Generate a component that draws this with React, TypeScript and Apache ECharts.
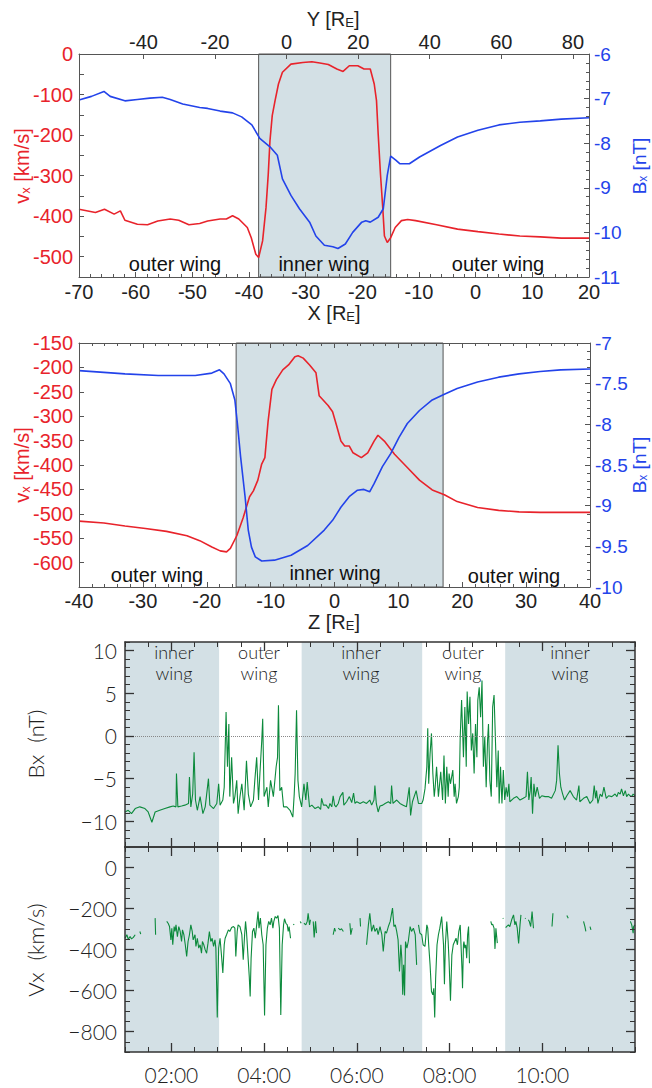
import React, { useEffect, useRef } from 'react';
import * as echarts from 'echarts';

// ---------- Panel 1: vx and Bx along X (top axis Y) ----------
const p1Vx: [number, number][] = [
  [-70, -383], [-67.1, -391], [-65.5, -383], [-63.8, -395], [-62.7, -387], [-61.9, -410], [-59.7, -420],
  [-57.9, -421], [-56.1, -412], [-53.9, -407], [-52.4, -410], [-50.6, -421], [-48.7, -418], [-47.3, -412],
  [-45.1, -407], [-44.0, -407], [-42.9, -399], [-41.8, -407], [-40.3, -428], [-39.6, -453], [-38.8, -494],
  [-38.3, -502], [-37.6, -461], [-37.0, -379], [-36.6, -296], [-36.3, -214], [-35.9, -152], [-35.4, -115],
  [-34.8, -74], [-34.1, -45], [-32.6, -25], [-30.5, -21], [-28.9, -19], [-27.5, -22], [-26.0, -26],
  [-24.5, -37], [-23.4, -43], [-22.3, -29], [-20.8, -29], [-19.7, -37], [-18.6, -37], [-17.9, -74],
  [-17.5, -115], [-17.2, -198], [-16.8, -296], [-16.4, -379], [-16.1, -449], [-15.6, -465], [-15.0, -453],
  [-14.2, -428], [-13.1, -411], [-12.0, -408], [-10.6, -411], [-6.9, -421], [-3.2, -432], [0.4, -438],
  [4.1, -444], [7.8, -449], [11.4, -451], [15.1, -454], [20, -454],
];
const p1Bx: [number, number][] = [
  [-70, -7.03], [-67.8, -6.95], [-65.6, -6.84], [-64.5, -6.95], [-61.9, -7.05], [-59.7, -7.02], [-57.5, -6.99],
  [-55.3, -6.97], [-53.9, -7.02], [-51.7, -7.12], [-48.7, -7.2], [-47.3, -7.22], [-45.1, -7.28], [-42.9, -7.32],
  [-41.3, -7.41], [-39.5, -7.59], [-38.1, -7.89], [-36.3, -8.08], [-35.0, -8.27], [-34.1, -8.8], [-32.6, -9.17],
  [-31.1, -9.47], [-29.3, -9.77], [-28.2, -10.08], [-26.7, -10.29], [-25.2, -10.32], [-24.3, -10.36],
  [-23.0, -10.26], [-21.7, -10.0], [-20.1, -9.77], [-19.4, -9.74], [-18.6, -9.77], [-17.2, -9.66],
  [-16.3, -9.47], [-15.6, -8.72], [-15.0, -8.29], [-14.1, -8.38], [-13.4, -8.46], [-11.7, -8.46],
  [-9.9, -8.31], [-6.2, -8.05], [-3.2, -7.86], [0.4, -7.71], [4.1, -7.59], [7.8, -7.53], [11.4, -7.5],
  [15.1, -7.46], [20, -7.43],
];
const p1Inner: [number, number] = [-38.3, -15.0];
const p1XTicks = [-70, 20];
const p1YTopRange = [-58, 84.5];
const p1YTopLabels = [-40, -20, 0, 20, 40, 60, 80];
const p1VxLabels = [0, -100, -200, -300, -400, -500];

// ---------- Panel 2: vx and Bx along Z ----------
const p2Vx: [number, number][] = [
  [-40, -515], [-36.1, -519], [-32.8, -525], [-29.6, -530], [-26.3, -536], [-23.1, -545], [-21.1, -555],
  [-19.2, -568], [-17.9, -576], [-16.9, -578], [-16.3, -571], [-15.3, -545], [-14.3, -508], [-13.3, -465],
  [-12.7, -453], [-12.0, -431], [-11.4, -398], [-10.9, -385], [-10.4, -311], [-9.8, -245], [-9.1, -225],
  [-8.1, -205], [-7.2, -195], [-6.2, -178], [-5.7, -176], [-4.9, -181], [-3.9, -195], [-2.9, -211],
  [-2.4, -258], [-1.0, -278], [-0.3, -291], [0.3, -318], [1.0, -351], [1.6, -361], [2.3, -361], [2.9, -375],
  [4.2, -385], [5.2, -375], [6.2, -351], [6.8, -339], [7.8, -351], [9.4, -378], [11.4, -405], [13.3, -431],
  [15.3, -451], [17.2, -461], [19.2, -475], [22.4, -487], [25.7, -493], [28.9, -496], [32.2, -497],
  [35.4, -497], [40, -497],
];
const p2Bx: [number, number][] = [
  [-40, -7.34], [-32.8, -7.38], [-27.6, -7.4], [-21.8, -7.4], [-19.2, -7.37], [-18.0, -7.33], [-17.3, -7.38],
  [-16.3, -7.5], [-15.6, -7.7], [-15.2, -7.99], [-14.7, -8.4], [-14.0, -8.89], [-13.5, -9.3], [-13.0, -9.51],
  [-12.4, -9.63], [-11.4, -9.68], [-9.4, -9.67], [-6.8, -9.61], [-4.2, -9.49], [-1.6, -9.3], [-0.3, -9.18],
  [1.0, -9.02], [2.3, -8.89], [3.6, -8.81], [4.6, -8.8], [5.5, -8.83], [6.2, -8.73], [7.5, -8.52], [8.8, -8.36],
  [10.1, -8.16], [11.4, -7.99], [13.3, -7.83], [15.3, -7.7], [17.2, -7.63], [19.2, -7.56], [22.4, -7.48],
  [25.7, -7.42], [28.9, -7.38], [32.2, -7.35], [35.4, -7.33], [40, -7.32],
];
const p2Inner: [number, number] = [-15.4, 17.0];
const p2VxLabels = [-150, -200, -250, -300, -350, -400, -450, -500, -550, -600];

// ---------- Panels 3-4: spacecraft time series (time in hours UT) ----------
const bxSeries: [number, number][] = [
  [1.0, -8.9], [1.07, -8.7], [1.14, -9.1], [1.22, -8.5], [1.32, -8.3], [1.43, -8.5], [1.5, -8.9], [1.58, -10.1],
  [1.65, -8.9], [1.75, -8.7], [1.86, -8.5], [1.97, -8.3], [2.04, -8.2], [2.1, -8.3], [2.11, -4.4], [2.14, -8.3],
  [2.22, -8.2], [2.29, -8.1], [2.37, -7.9], [2.39, -4.8], [2.42, -8.3], [2.46, -6.8], [2.49, -1.9], [2.52, -7.5],
  [2.56, -8.7], [2.62, -7.1], [2.68, -9.1], [2.73, -8.3], [2.8, -5.0], [2.83, -8.1], [2.91, -8.5], [2.98, -7.9],
  [3.02, -5.6], [3.05, -8.1], [3.11, -7.5], [3.14, -6.0], [3.18, 2.8], [3.21, -3.6], [3.24, 1.4], [3.26, -7.1],
  [3.3, -2.5], [3.34, -7.9], [3.37, -7.1], [3.41, -5.2], [3.44, -9.1], [3.48, -7.1], [3.52, -5.6], [3.57, -8.7],
  [3.62, -2.9], [3.66, -6.8], [3.71, -8.3], [3.77, -7.5], [3.8, -5.2], [3.84, -2.5], [3.88, -7.5], [3.91, -4.4],
  [3.95, -0.5], [3.97, 2.0], [4.0, -7.1], [4.06, -6.0], [4.09, -8.3], [4.14, -5.2], [4.2, -7.1], [4.26, -3.6],
  [4.29, -2.5], [4.31, 3.6], [4.34, -6.4], [4.38, -6.0], [4.42, -8.3], [4.49, -8.3], [4.56, -8.7], [4.62, -9.5],
  [4.65, -6.8], [4.67, -4.4], [4.7, 3.0], [4.73, -5.2], [4.76, -7.1], [4.81, -8.3], [4.86, -5.6], [4.9, -7.5],
  [4.93, -5.4], [4.98, -8.3], [5.03, -8.1], [5.1, -8.5], [5.17, -8.3], [5.22, -8.6], [5.24, -7.3], [5.28, -8.1],
  [5.34, -8.1], [5.39, -8.5], [5.42, -7.9], [5.46, -8.3], [5.49, -7.0], [5.52, -8.1], [5.55, -8.3], [5.6, -7.9],
  [5.64, -7.1], [5.7, -6.6], [5.72, -8.1], [5.78, -7.7], [5.84, -7.1], [5.89, -7.8], [5.93, -6.7], [5.96, -7.9],
  [6.0, -7.7], [6.07, -7.9], [6.14, -7.7], [6.21, -7.9], [6.28, -7.5], [6.32, -8.1], [6.37, -7.5], [6.39, -5.8],
  [6.42, -7.9], [6.46, -8.9], [6.5, -8.2], [6.56, -8.1], [6.61, -7.9], [6.68, -7.7], [6.73, -7.9], [6.75, -5.8],
  [6.78, -7.9], [6.86, -7.5], [6.93, -7.9], [7.0, -8.1], [7.07, -8.3], [7.13, -6.0], [7.16, -9.3], [7.2, -7.7],
  [7.28, -6.4], [7.33, -7.9], [7.4, -7.9], [7.43, -7.5],
  [7.47, -6.2], [7.51, -3.6], [7.53, 0.9], [7.55, -5.6], [7.58, -2.1], [7.61, 0.3], [7.64, -4.4], [7.67, -7.1],
  [7.69, -6.0], [7.72, -3.6], [7.76, -7.1], [7.81, -4.2], [7.85, -7.5], [7.88, -2.3], [7.91, -7.9], [7.94, -3.6],
  [7.97, -7.1], [7.99, -4.4], [8.02, -5.6], [8.07, -4.0], [8.1, -7.1], [8.12, -5.6], [8.15, -7.9], [8.19, -7.1],
  [8.21, -6.0], [8.23, -0.1], [8.26, 4.2], [8.3, -2.5], [8.33, 3.4], [8.36, -3.6], [8.38, 5.2], [8.41, 1.4],
  [8.44, 4.6], [8.47, -1.7], [8.5, 0.3], [8.53, -4.4], [8.56, 1.4], [8.59, -2.5], [8.61, 4.2], [8.64, 5.7],
  [8.67, 2.2], [8.7, 6.5], [8.73, -3.6], [8.76, -0.1], [8.79, -6.0], [8.82, -0.5], [8.84, 1.4], [8.87, -5.2],
  [8.9, -7.1], [8.93, 3.4], [8.96, 4.8], [8.99, -0.5], [9.02, -6.0], [9.05, -1.7], [9.07, -7.9], [9.1, -3.6],
  [9.13, -7.9], [9.16, -4.0], [9.19, -7.5], [9.22, -6.0], [9.25, -7.1], [9.28, -5.6], [9.3, -7.7], [9.38, -7.3],
  [9.45, -7.1], [9.52, -7.5], [9.59, -7.3], [9.65, -7.1], [9.68, -4.2], [9.71, -7.5], [9.74, -6.4], [9.76, -4.8],
  [9.79, -9.1], [9.82, -5.6], [9.85, -7.1], [9.89, -6.0], [9.94, -7.3], [9.99, -7.0], [10.06, -7.1], [10.13, -7.1],
  [10.2, -7.3], [10.28, -6.4], [10.31, -5.2], [10.34, -1.1], [10.37, -4.4], [10.4, -6.0], [10.44, -6.8],
  [10.48, -7.5], [10.53, -7.0], [10.6, -6.4], [10.67, -7.1], [10.74, -7.5], [10.79, -5.8], [10.81, -7.7],
  [10.89, -7.3], [10.96, -7.1], [11.03, -7.9], [11.09, -7.5], [11.12, -5.8], [11.15, -7.3], [11.17, -6.4],
  [11.2, -7.9], [11.25, -6.8], [11.29, -7.1], [11.33, -6.0], [11.38, -7.3], [11.43, -7.0], [11.5, -7.1],
  [11.57, -6.8], [11.61, -7.1], [11.64, -6.6], [11.68, -6.8], [11.71, -6.2], [11.75, -7.0], [11.79, -6.4],
  [11.82, -7.1], [11.86, -6.8], [11.89, -7.0], [11.93, -7.1], [11.96, -6.8], [12.0, -7.0],
];
// null marks a data gap
const vxSeries: ([number, number] | null)[] = [
  [1.0, -345], [1.04, -328], [1.07, -350], [1.11, -337], [1.14, -348], [1.18, -341], [1.22, -328], null,
  [1.32, -312], [1.34, -325], null,
  [1.65, -247], [1.66, -328], null,
  [1.9, -263], [1.93, -272], [1.96, -288], [1.99, -353], [2.01, -296], [2.03, -377], [2.06, -288], [2.08, -312],
  [2.1, -280], [2.13, -337], [2.16, -288], [2.19, -312], [2.22, -361], [2.24, -304], [2.27, -328], [2.3, -377],
  [2.33, -434], [2.36, -361], [2.39, -328], [2.42, -280], [2.45, -312], [2.47, -353], [2.51, -328], [2.53, -385],
  [2.56, -345], [2.59, -393], [2.62, -377], [2.65, -418], [2.67, -361], [2.7, -377], [2.73, -402], [2.76, -418],
  [2.79, -369], [2.82, -312], [2.85, -361], [2.88, -345], [2.91, -385], [2.94, -353], [2.96, -393], [2.99, -732],
  [3.02, -393], [3.05, -345], [3.08, -426], [3.11, -515], [3.14, -377], [3.16, -345], [3.19, -328], [3.23, -304],
  [3.26, -312], [3.3, -293], [3.34, -288], [3.37, -296], [3.39, -434], [3.42, -312], [3.44, -280], [3.48, -288],
  [3.52, -328], [3.55, -450], [3.58, -328], [3.6, -263], [3.62, -312], [3.66, -459], [3.68, -532], [3.7, -629],
  [3.72, -442], [3.75, -312], [3.78, -296], [3.81, -345], [3.84, -280], [3.87, -215], [3.89, -296], [3.92, -247],
  [3.95, -328], [3.98, -377], [4.01, -722], [4.04, -377], [4.07, -296], [4.1, -263], [4.13, -280], [4.16, -247],
  [4.19, -296], [4.21, -263], [4.24, -239], [4.27, -247], [4.3, -234], [4.33, -296], [4.36, -719], [4.39, -377],
  [4.42, -280], [4.44, -250], [4.47, -272], [4.5, -280], [4.52, -312], [4.54, -288], [4.57, -345], null,
  [4.63, -280], [4.65, -276], null,
  [4.78, -263], [4.8, -272], null,
  [4.86, -272], [4.9, -280], [4.93, -263], [4.95, -223], [4.98, -280], [5.0, -255], null,
  [5.06, -263], [5.08, -341], [5.11, -263], [5.13, -320], null,
  [5.49, -328], [5.52, -296], [5.54, -312], null,
  [5.6, -296], [5.64, -304], [5.67, -299], [5.71, -312], null,
  [5.85, -272], [5.87, -328], [5.9, -296], null,
  [6.07, -247], [6.08, -288], null,
  [6.21, -377], [6.25, -280], [6.28, -223], [6.32, -312], [6.36, -280], [6.39, -312], [6.43, -296], [6.46, -328],
  [6.5, -288], [6.54, -328], [6.57, -410], [6.61, -312], [6.64, -320], [6.68, -288], [6.72, -263], [6.75, -223],
  [6.77, -198], [6.8, -288], [6.83, -280], [6.86, -312], [6.89, -353], [6.92, -507], [6.95, -377], [6.97, -442],
  [6.99, -621], [7.01, -475], [7.03, -624], [7.05, -361], [7.08, -393], [7.11, -361], [7.15, -288], [7.18, -312],
  [7.22, -296], [7.26, -328], [7.29, -475], null,
  [7.33, -280], [7.36, -320], [7.4, -328], [7.43, -377], [7.47, -385], [7.51, -280], [7.53, -296], [7.55, -377],
  [7.58, -475], [7.61, -605], [7.64, -621], [7.66, -589], [7.68, -732], [7.7, -540], [7.73, -377], [7.76, -328],
  [7.79, -296], [7.83, -239], [7.87, -377], [7.89, -569], [7.91, -377], [7.94, -263], [7.97, -361], [7.99, -459],
  [8.02, -650], [8.05, -426], [8.08, -377], [8.11, -361], [8.14, -345], [8.17, -377], [8.2, -312], [8.23, -280],
  [8.25, -393], [8.27, -507], [8.28, -589], [8.3, -377], [8.31, -361], [8.33, -393], [8.35, -377], [8.37, -442],
  [8.39, -328], [8.41, -288], [8.43, -467], null,
  [8.79, -276], [8.8, -278], null,
  [8.84, -272], [8.85, -270], null,
  [8.89, -263], [8.91, -280], [8.93, -276], [8.96, -296], [8.98, -397], [9.0, -296], [9.03, -369], null,
  [9.15, -247], [9.16, -250], null,
  [9.21, -293], [9.23, -288], [9.27, -280], [9.3, -288], [9.34, -255], [9.38, -231], [9.41, -280], [9.43, -263],
  [9.46, -296], [9.49, -371], [9.52, -280], [9.54, -231], null,
  [9.63, -247], [9.64, -250], null,
  [9.7, -255], [9.72, -263], [9.75, -288], [9.78, -215], [9.81, -296], null,
  [10.16, -220], [10.17, -222], null,
  [10.21, -288], [10.23, -223], null,
  [10.53, -234], [10.56, -247], null,
  [10.89, -263], [10.92, -288], [10.94, -312], null,
  [11.03, -288], [11.05, -304], null,
  [11.52, -260], [11.53, -262], null,
  [11.73, -267], [11.74, -268], null,
  [11.9, -263], [11.93, -280], [11.96, -320], [11.97, -288], [12.0, -280],
];
const innerWingTimes: [number, number][] = [[1.0, 3.03], [4.81, 7.41], [9.2, 12.0]];
const wingWords = ['inner', 'outer', 'inner', 'outer', 'inner'];
const timeLabels = [2, 4, 6, 8, 10];
const bxLabels = [-10, -5, 0, 5, 10];
const vxLabels = [0, -200, -400, -600, -800];

// ---------- styles ----------
const RED = '#e8232b';
const BLUE = '#2343ea';
const GREEN = '#0c8a3c';
const SHADE = '#d3e0e5';
const FRAME = '#555';
const FRAME2 = '#333';
const NARROW = "'Liberation Sans Narrow', 'Liberation Sans', Arial, sans-serif";
const ROUND = "Lato, 'Noto Sans', 'DejaVu Sans', sans-serif";

function axis(o: any) {
  const { line = true, tick = {}, label = null, frame = FRAME, lw = 1, ...rest } = o;
  return {
    type: 'value',
    z: 5,
    splitLine: { show: false },
    axisPointer: { show: false },
    axisLine: { show: line, onZero: false, lineStyle: { color: frame, width: lw } },
    axisTick: { show: true, inside: true, length: 5, lineStyle: { color: frame, width: 1 }, ...tick },
    axisLabel: label ? { show: true, ...label } : { show: false },
    ...rest,
  };
}

function buildOption() {
  const grids = [
    { left: 79, top: 54, width: 510, height: 223 },
    { left: 79, top: 343, width: 511, height: 244 },
    { left: 125, top: 642, width: 510, height: 205 },
    { left: 125, top: 847, width: 510, height: 205 },
  ];
  const numLab = (color: string, margin: number) => ({
    fontFamily: NARROW, fontSize: 20, color, margin,
  });
  const minus = (v: number) => String(v).replace('-', '\u2212');
  const roundLab = (margin: number, fmt: any, custom: number[]) => ({
    fontFamily: ROUND, fontWeight: 300, fontSize: 21, color: '#222', margin, formatter: fmt, customValues: custom,
  });
  const timeFmt = (v: number) => (v < 10 ? '0' : '') + v + ':00';
  const majorTick = { length: 9, lineStyle: { color: FRAME2, width: 1.3 } };

  const xAxis: any[] = [
    // 0: panel1 bottom X
    axis({ gridIndex: 0, position: 'bottom', min: p1XTicks[0], max: p1XTicks[1], interval: 10,
      minorTick: { show: true, splitNumber: 5, length: 3, lineStyle: { color: FRAME } },
      label: numLab('#222', 5) }),
    // 1: panel1 top Y
    axis({ gridIndex: 0, position: 'top', min: p1YTopRange[0], max: p1YTopRange[1],
      tick: { customValues: p1YTopLabels },
      label: { ...numLab('#222', 2), customValues: p1YTopLabels } }),
    // 2: panel2 bottom Z
    axis({ gridIndex: 1, position: 'bottom', min: -40, max: 40, interval: 10,
      minorTick: { show: true, splitNumber: 5, length: 3, lineStyle: { color: FRAME } },
      label: numLab('#222', 4) }),
    // 3: panel2 top
    axis({ gridIndex: 1, position: 'top', min: -40, max: 40, interval: 10,
      minorTick: { show: true, splitNumber: 5, length: 3, lineStyle: { color: FRAME } } }),
    // 4-7: panel3
    axis({ gridIndex: 2, position: 'bottom', min: 1, max: 12, interval: 0.5, frame: FRAME2, lw: 1.5 }),
    axis({ gridIndex: 2, position: 'bottom', min: 1, max: 12, line: false, frame: FRAME2,
      tick: { customValues: timeLabels, ...majorTick } }),
    axis({ gridIndex: 2, position: 'top', min: 1, max: 12, interval: 0.5, frame: FRAME2, lw: 1.5 }),
    axis({ gridIndex: 2, position: 'top', min: 1, max: 12, line: false, frame: FRAME2,
      tick: { customValues: timeLabels, ...majorTick } }),
    // 8-11: panel4
    axis({ gridIndex: 3, position: 'bottom', min: 1, max: 12, interval: 0.5, frame: FRAME2, lw: 1.5,
      label: roundLab(12, timeFmt, timeLabels) }),
    axis({ gridIndex: 3, position: 'bottom', min: 1, max: 12, line: false, frame: FRAME2,
      tick: { customValues: timeLabels, ...majorTick } }),
    axis({ gridIndex: 3, position: 'top', min: 1, max: 12, interval: 0.5, frame: FRAME2, lw: 1.5 }),
    axis({ gridIndex: 3, position: 'top', min: 1, max: 12, line: false, frame: FRAME2,
      tick: { customValues: timeLabels, ...majorTick } }),
  ];

  const rightLab = (extra: any = {}) => ({
    ...numLab(BLUE, 5), fontSize: 19, lineHeight: 19, padding: [0, 0, 4, 0], ...extra,
  });

  const yAxis: any[] = [
    // 0: panel1 left vx
    axis({ gridIndex: 0, position: 'left', min: -550, max: 0, interval: 50,
      label: { ...numLab(RED, 6), customValues: p1VxLabels } }),
    // 1: panel1 right Bx
    axis({ gridIndex: 0, position: 'right', min: -11, max: -6, interval: 1,
      minorTick: { show: true, splitNumber: 5, length: 3, lineStyle: { color: FRAME } },
      label: rightLab() }),
    // 2: panel2 left vx
    axis({ gridIndex: 1, position: 'left', min: -650, max: -150, interval: 50,
      label: { ...numLab(RED, 6), customValues: p2VxLabels } }),
    // 3: panel2 right Bx
    axis({ gridIndex: 1, position: 'right', min: -10, max: -7, interval: 0.5,
      minorTick: { show: true, splitNumber: 5, length: 3, lineStyle: { color: FRAME } },
      label: rightLab({ formatter: (v: number) => (Number.isInteger(v) ? String(v) : v.toFixed(1)) }) }),
    // 4-7: panel3
    axis({ gridIndex: 2, position: 'left', min: -13, max: 11, interval: 1, frame: FRAME2, lw: 1.5,
      label: roundLab(8, minus, bxLabels) }),
    axis({ gridIndex: 2, position: 'left', min: -13, max: 11, line: false, frame: FRAME2,
      tick: { customValues: bxLabels, ...majorTick } }),
    axis({ gridIndex: 2, position: 'right', min: -13, max: 11, interval: 1, frame: FRAME2, lw: 1.5 }),
    axis({ gridIndex: 2, position: 'right', min: -13, max: 11, line: false, frame: FRAME2,
      tick: { customValues: bxLabels, ...majorTick } }),
    // 8-11: panel4
    axis({ gridIndex: 3, position: 'left', min: -900, max: 100, interval: 50, frame: FRAME2, lw: 1.5,
      label: roundLab(8, minus, vxLabels) }),
    axis({ gridIndex: 3, position: 'left', min: -900, max: 100, line: false, frame: FRAME2,
      tick: { customValues: vxLabels, ...majorTick } }),
    axis({ gridIndex: 3, position: 'right', min: -900, max: 100, interval: 50, frame: FRAME2, lw: 1.5 }),
    axis({ gridIndex: 3, position: 'right', min: -900, max: 100, line: false, frame: FRAME2,
      tick: { customValues: vxLabels, ...majorTick } }),
  ];

  const lineBase = { type: 'line', showSymbol: false, symbol: 'none', silent: true, clip: true, z: 3 };
  const shadeSeries = (xi: number, yi: number, ranges: [number, number][], border: boolean, extra: any = {}) => ({
    type: 'line', data: [], xAxisIndex: xi, yAxisIndex: yi, silent: true, z: 1,
    markArea: {
      silent: true,
      itemStyle: { color: SHADE, borderColor: border ? FRAME : 'transparent', borderWidth: border ? 1 : 0 },
      label: { show: false },
      data: ranges.map((r) => [{ xAxis: r[0] }, { xAxis: r[1] }]),
    },
    ...extra,
  });

  const series: any[] = [
    shadeSeries(0, 0, [p1Inner], true),
    { ...lineBase, xAxisIndex: 0, yAxisIndex: 0, data: p1Vx, lineStyle: { color: RED, width: 1.6 } },
    { ...lineBase, xAxisIndex: 0, yAxisIndex: 1, data: p1Bx, lineStyle: { color: BLUE, width: 1.6 } },
    shadeSeries(2, 2, [p2Inner], true),
    { ...lineBase, xAxisIndex: 2, yAxisIndex: 2, data: p2Vx, lineStyle: { color: RED, width: 1.6 } },
    { ...lineBase, xAxisIndex: 2, yAxisIndex: 3, data: p2Bx, lineStyle: { color: BLUE, width: 1.6 } },
    shadeSeries(4, 4, innerWingTimes, false, {
      markLine: {
        silent: true, symbol: ['none', 'none'], label: { show: false },
        lineStyle: { type: 'dotted', color: '#888', width: 1 },
        data: [{ yAxis: 0 }],
      },
    }),
    { ...lineBase, xAxisIndex: 4, yAxisIndex: 4, data: bxSeries, lineStyle: { color: GREEN, width: 1.1 } },
    shadeSeries(8, 8, innerWingTimes, false),
    { ...lineBase, xAxisIndex: 8, yAxisIndex: 8, connectNulls: false,
      data: vxSeries.map((p) => (p ? p : ['-', '-'])), lineStyle: { color: GREEN, width: 1.1 } },
  ];

  const txt = (x: number, y: number, text: string, style: any, rotation = 0) => ({
    type: 'text', x, y, rotation, silent: true, z: 10,
    style: { text, align: 'center', verticalAlign: 'middle', textAlign: 'center', textVerticalAlign: 'middle', ...style },
  });
  const subRich = (color: string, size: number) => ({
    n: { fontFamily: NARROW, fontSize: size, fill: color, lineHeight: size, verticalAlign: 'middle' },
    s: { fontFamily: NARROW, fontSize: Math.round(size * 0.65), fill: color, lineHeight: size, verticalAlign: 'bottom' },
  });
  const wingStyle = { fontFamily: NARROW, fontSize: 20, fill: '#111' };
  const roundTitle = { fontFamily: ROUND, fontWeight: 300, fontSize: 22, fill: '#222' };
  const wordStyle = { fontFamily: ROUND, fontWeight: 300, fontSize: 18, lineHeight: 18, fill: '#222' };
  const wingCenters = [174, 259, 361, 463, 570];

  const graphic: any[] = [
    txt(333, 19, '{n|Y [R}{s|E}{n|]}', { rich: subRich('#222', 20) }),
    txt(334, 313, '{n|X [R}{s|E}{n|]}', { rich: subRich('#222', 20) }),
    txt(334, 622, '{n|Z [R}{s|E}{n|]}', { rich: subRich('#222', 20) }),
    txt(22, 166, '{n|v}{s|x}{n| [km/s]}', { rich: subRich(RED, 20) }, Math.PI / 2),
    txt(22, 465, '{n|v}{s|x}{n| [km/s]}', { rich: subRich(RED, 20) }, Math.PI / 2),
    txt(639, 166, '{n|B}{s|x}{n| [nT]}', { rich: subRich(BLUE, 19) }, Math.PI / 2),
    txt(639, 465, '{n|B}{s|x}{n| [nT]}', { rich: subRich(BLUE, 19) }, Math.PI / 2),
    txt(175, 264, 'outer wing', wingStyle),
    txt(324, 264, 'inner wing', wingStyle),
    txt(498, 264, 'outer wing', wingStyle),
    txt(157, 575, 'outer wing', wingStyle),
    txt(335, 573, 'inner wing', wingStyle),
    txt(514, 576, 'outer wing', wingStyle),
    txt(35, 744, 'Bx  (nT)', roundTitle, Math.PI / 2),
    txt(35, 950, 'Vx  (km/s)', roundTitle, Math.PI / 2),
    ...wingWords.map((w, i) => txt(wingCenters[i], 652, w, wordStyle)),
    ...wingWords.map((_, i) => txt(wingCenters[i], 673, 'wing', wordStyle)),
  ];

  return { animation: false, backgroundColor: '#fff', grid: grids, xAxis, yAxis, series, graphic };
}

export default function App() {
  const ref = useRef<HTMLDivElement>(null);
  useEffect(() => {
    const chart = echarts.init(ref.current!, undefined, { renderer: 'svg' });
    chart.setOption(buildOption() as any);
    return () => chart.dispose();
  }, []);
  return (
    <div
      ref={ref}
      style={{ position: 'absolute', left: 0, top: 0, width: 652, height: 1088, background: '#fff' }}
    />
  );
}
